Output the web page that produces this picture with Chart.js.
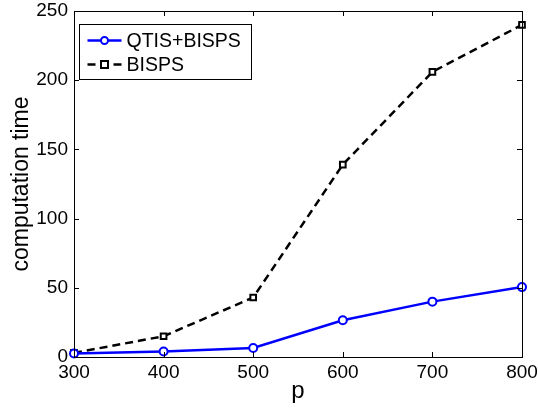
<!DOCTYPE html>
<html>
<head>
<meta charset="utf-8">
<script src="https://cdn.jsdelivr.net/npm/chart.js@4"></script>
<style>
  html, body { margin: 0; padding: 0; background: #fff; }
  #wrap { width: 538px; height: 408px; }
</style>
</head>
<body>
<div id="wrap"><canvas id="chart" width="538" height="408"></canvas></div>
<script>
// Data
const pValues = [300, 400, 500, 600, 700, 800];
const qtisBisps = [2.5, 4, 6.5, 26.5, 40, 50.5];
const bisps = [3, 15, 43, 139, 206, 240];
const xTicks = [300, 400, 500, 600, 700, 800];
const yTicks = [0, 50, 100, 150, 200, 250];

const FONT = 'Liberation Sans, Arial, Helvetica, sans-serif';

const toPoints = (xs, ys) => xs.map((x, i) => ({ x, y: ys[i] }));

// MATLAB-like box with inward ticks on all four sides, plus legend box
const matlabFrame = {
    id: 'matlabFrame',
    afterDatasetsDraw(chart) {
        const { ctx, chartArea: a, scales } = chart;
        const len = 5;
        ctx.save();
        ctx.strokeStyle = '#000';
        ctx.lineWidth = 1;
        ctx.beginPath();
        xTicks.forEach(t => {
            const px = Math.round(scales.x.getPixelForValue(t)) + 0.5;
            ctx.moveTo(px, a.bottom); ctx.lineTo(px, a.bottom - len);
            ctx.moveTo(px, a.top); ctx.lineTo(px, a.top + len);
        });
        yTicks.forEach(t => {
            const py = Math.round(scales.y.getPixelForValue(t)) + 0.5;
            ctx.moveTo(a.left, py); ctx.lineTo(a.left + len, py);
            ctx.moveTo(a.right, py); ctx.lineTo(a.right - len, py);
        });
        ctx.stroke();
        ctx.strokeRect(Math.round(a.left) + 0.5, Math.round(a.top) + 0.5,
            Math.round(a.right - a.left), Math.round(a.bottom - a.top));

        // legend
        const bx = 79.5, by = 24.5, bw = 172, bh = 55;
        ctx.fillStyle = '#fff';
        ctx.fillRect(bx, by, bw, bh);
        ctx.strokeRect(bx, by, bw, bh);
        ctx.font = '19.5px ' + FONT;
        ctx.textBaseline = 'middle';
        chart.data.datasets.forEach((ds, i) => {
            const y = by + 16 + i * 24;
            const x0 = bx + 8, x1 = bx + 42, xm = (x0 + x1) / 2;
            ctx.strokeStyle = ds.borderColor;
            ctx.lineWidth = 2.5;
            ctx.setLineDash(ds.borderDash || []);
            ctx.beginPath(); ctx.moveTo(x0, y); ctx.lineTo(x1, y); ctx.stroke();
            ctx.setLineDash([]);
            ctx.lineWidth = 2;
            ctx.beginPath();
            if (ds.pointStyle === 'rect') {
                ctx.rect(xm - 3.5, y - 3.5, 7, 7);
            } else {
                ctx.arc(xm, y, 3.5, 0, Math.PI * 2);
            }
            ctx.fillStyle = '#fff';
            ctx.fill();
            ctx.stroke();
            ctx.fillStyle = '#000';
            ctx.fillText(ds.label, bx + 47, y + 1);
        });
        ctx.restore();
    }
};

new Chart(document.getElementById('chart'), {
    type: 'line',
    data: {
        datasets: [
            {
                label: 'QTIS+BISPS',
                data: toPoints(pValues, qtisBisps),
                borderColor: '#0000ff',
                backgroundColor: '#ffffff',
                borderWidth: 2.5,
                pointStyle: 'circle',
                pointRadius: 4,
                pointBorderWidth: 2,
                tension: 0
            },
            {
                label: 'BISPS',
                data: toPoints(pValues, bisps),
                borderColor: '#000000',
                backgroundColor: '#ffffff',
                borderWidth: 2.5,
                borderDash: [8, 5],
                pointStyle: 'rect',
                pointRadius: 4,
                pointBorderWidth: 2,
                tension: 0
            }
        ]
    },
    options: {
        responsive: false,
        animation: false,
        clip: false,
        layout: { padding: { left: 0, top: 11, right: 16, bottom: 0 } },
        plugins: { legend: { display: false }, tooltip: { enabled: false } },
        scales: {
            x: {
                type: 'linear',
                min: 300, max: 800,
                afterFit: s => { s.height = 51; s.paddingLeft = 0; s.paddingRight = 0; },
                afterBuildTicks: s => { s.ticks = xTicks.map(v => ({ value: v })); },
                grid: { display: false, drawTicks: false },
                border: { display: false },
                ticks: { color: '#000', font: { family: FONT, size: 19 }, padding: 4, maxRotation: 0 },
                title: { display: true, text: 'p', color: '#000', font: { family: FONT, size: 24 }, padding: { top: 0, bottom: 2 } }
            },
            y: {
                min: 0, max: 250,
                afterFit: s => { s.width = 74; s.paddingTop = 0; s.paddingBottom = 0; },
                afterBuildTicks: s => { s.ticks = yTicks.map(v => ({ value: v })); },
                grid: { display: false, drawTicks: false },
                border: { display: false },
                ticks: { color: '#000', font: { family: FONT, size: 19 }, padding: 6 },
                title: { display: true, text: 'computation time', color: '#000', font: { family: FONT, size: 23 }, padding: { top: 8, bottom: 0 } }
            }
        }
    },
    plugins: [matlabFrame]
});
</script>
</body>
</html>
